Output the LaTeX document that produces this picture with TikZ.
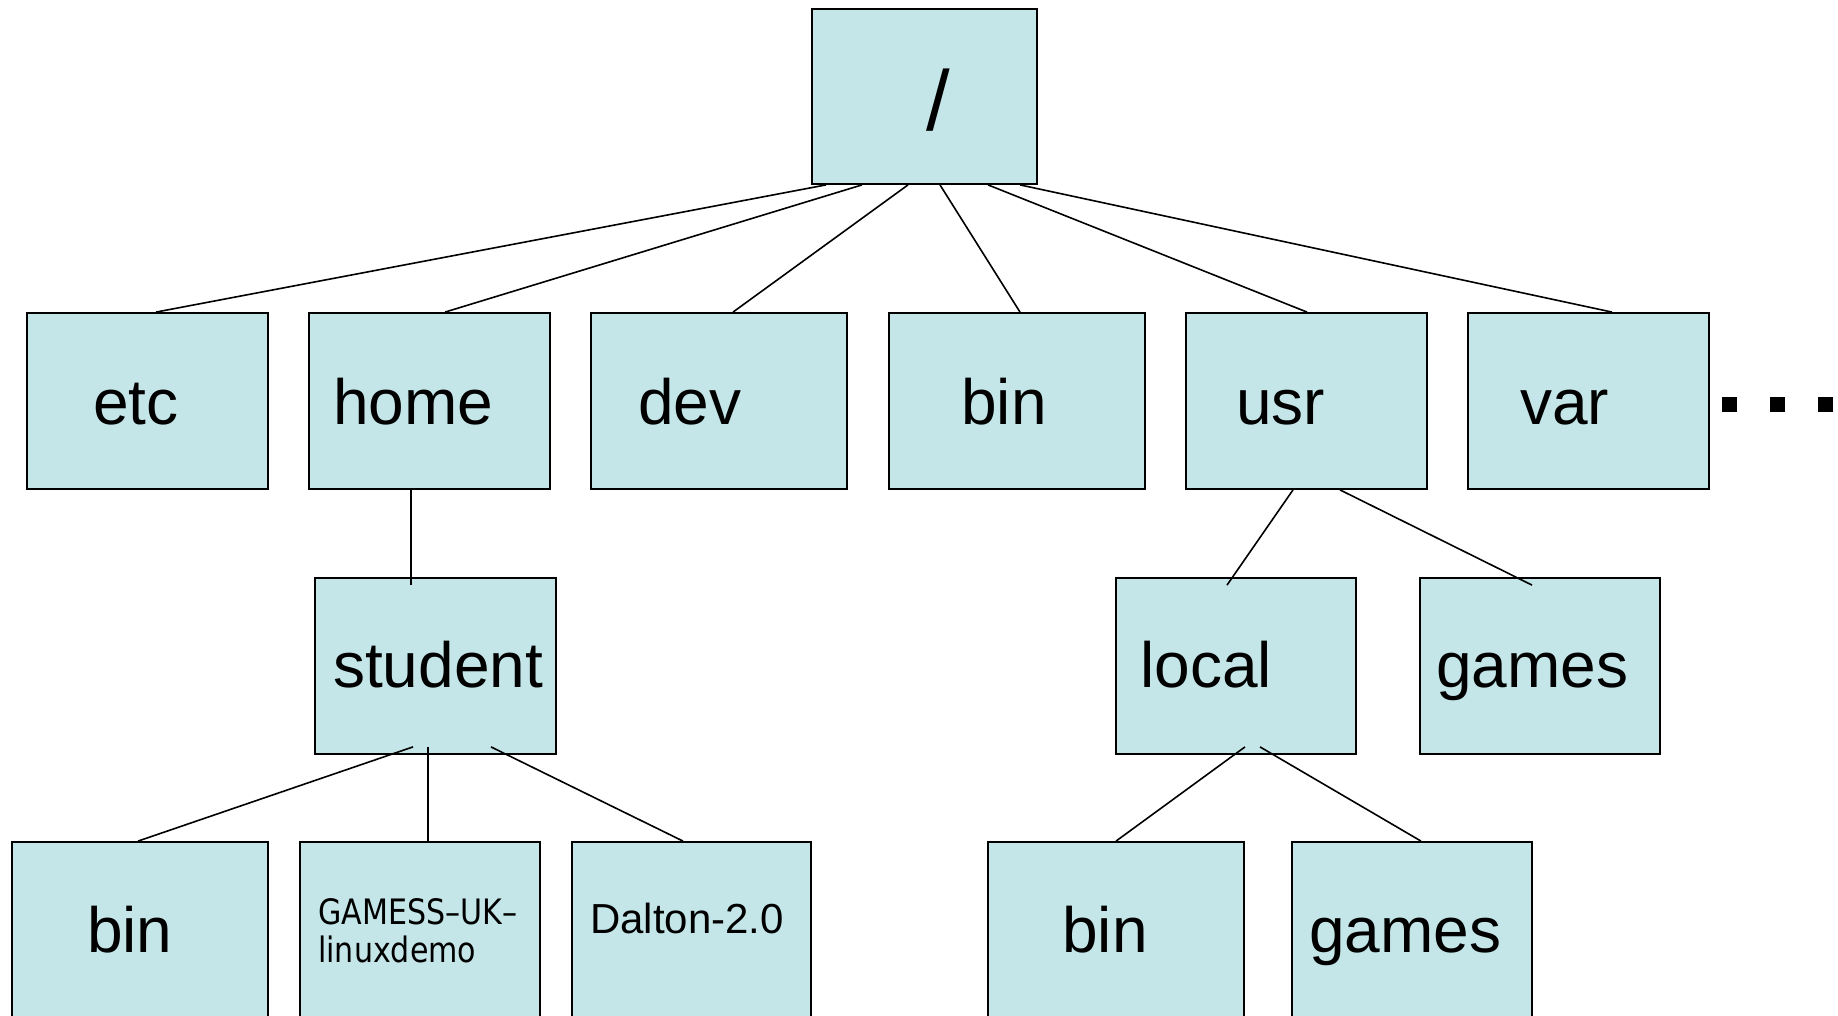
\documentclass[tikz,border=0pt]{standalone}
\usepackage{fontspec}
\setmainfont{Liberation Sans}
\newfontfamily\gamessfont[FakeStretch=0.86]{DejaVu Sans}
\definecolor{dirfill}{RGB}{196,230,232}
\tikzset{
  dirbox/.style={draw=black, fill=dirfill, line width=1.8pt, inner sep=0pt, minimum height=176pt},
  dirname/.style={anchor=base west, inner sep=0pt, font=\fontsize{64}{77}\selectfont},
  link/.style={line width=1.6pt},
}
\begin{document}
\begin{tikzpicture}[x=1pt,y=-1pt]
    \useasboundingbox (0,0) rectangle (1838,1016);

    % Root directory
    \node[dirbox, minimum width=225pt, minimum height=175pt] (root) at (924.5,96.5) {};

    % First level
    \node[dirbox, minimum width=241pt] (etc) at (147.5,401) {};
    \node[dirbox, minimum width=241pt] (home) at (429.5,401) {};
    \node[dirbox, minimum width=256pt] (dev) at (719,401) {};
    \node[dirbox, minimum width=256pt] (bin) at (1017,401) {};
    \node[dirbox, minimum width=241pt] (usr) at (1306.5,401) {};
    \node[dirbox, minimum width=241pt] (var) at (1588.5,401) {};

    % More entries
    \foreach \i/\x in {1/1729, 2/1777, 3/1825}
        \node[fill=black, inner sep=0pt, minimum size=15pt] (dot\i) at (\x,404) {};

    % Second level
    \node[dirbox, minimum width=241pt] (student) at (435.5,666) {};
    \node[dirbox, minimum width=240pt] (local) at (1236,666) {};
    \node[dirbox, minimum width=240pt] (usrgames) at (1540,666) {};

    % Third level (cut off at the bottom)
    \node[dirbox, minimum width=256pt, minimum height=190pt] (stubin) at (140,937) {};
    \node[dirbox, minimum width=240pt, minimum height=190pt] (gamess) at (420,937) {};
    \node[dirbox, minimum width=239pt, minimum height=190pt] (dalton) at (691.5,937) {};
    \node[dirbox, minimum width=256pt, minimum height=190pt] (localbin) at (1116,937) {};
    \node[dirbox, minimum width=240pt, minimum height=190pt] (localgames) at (1412,937) {};

    % Links from root
    \draw[link] ([xshift=-98.5pt]root.south) -- ([xshift=8.5pt]etc.north);
    \draw[link] ([xshift=-62.5pt]root.south) -- ([xshift=15.5pt]home.north);
    \draw[link] ([xshift=-16.5pt]root.south) -- ([xshift=14pt]dev.north);
    \draw[link] ([xshift=15.5pt]root.south) -- ([xshift=3pt]bin.north);
    \draw[link] ([xshift=63.5pt]root.south) -- ([xshift=0.5pt]usr.north);
    \draw[link] ([xshift=95.5pt]root.south) -- ([xshift=23.5pt]var.north);

    % Links below home and usr
    \draw[link] ([xshift=-18.5pt]home.south) -- ([xshift=-24.5pt, yshift=-8pt]student.north);
    \draw[link] ([xshift=-13.5pt]usr.south) -- ([xshift=-9pt, yshift=-8pt]local.north);
    \draw[link] ([xshift=33.5pt]usr.south) -- ([xshift=-8pt, yshift=-8pt]usrgames.north);

    % Links below student and local
    \draw[link] ([xshift=-22.5pt, yshift=8pt]student.south) -- ([xshift=-2pt]stubin.north);
    \draw[link] ([xshift=-7.5pt, yshift=8pt]student.south) -- ([xshift=8pt]gamess.north);
    \draw[link] ([xshift=55.5pt, yshift=8pt]student.south) -- ([xshift=-8.5pt]dalton.north);
    \draw[link] ([xshift=9pt, yshift=8pt]local.south) -- ([xshift=0pt]localbin.north);
    \draw[link] ([xshift=24pt, yshift=8pt]local.south) -- ([xshift=9pt]localgames.north);

    % Names
    \node[dirname, font=\fontsize{85}{100}\selectfont] (root-t) at (926,131) {/};
    \node[dirname] (etc-t) at (93,424) {etc};
    \node[dirname] (home-t) at (333,424) {home};
    \node[dirname] (dev-t) at (638,424) {dev};
    \node[dirname] (bin-t) at (961,424) {bin};
    \node[dirname] (usr-t) at (1236,424) {usr};
    \node[dirname] (var-t) at (1520,424) {var};
    \node[dirname] (student-t) at (333,687) {student};
    \node[dirname] (local-t) at (1140,687) {local};
    \node[dirname] (usrgames-t) at (1436,687) {games};
    \node[dirname] (stubin-t) at (87,952) {bin};
    \node[anchor=base west, inner sep=0pt, align=left, font=\gamessfont\fontsize{35}{38}\selectfont] (gamess-t) at (318,962) {GAMESS–UK–\\linuxdemo};
    \node[dirname, font=\fontsize{42}{50}\selectfont] (dalton-t) at (590,933) {Dalton-2.0};
    \node[dirname] (localbin-t) at (1062,952) {bin};
    \node[dirname] (localgames-t) at (1309,952) {games};
\end{tikzpicture}
\end{document}
